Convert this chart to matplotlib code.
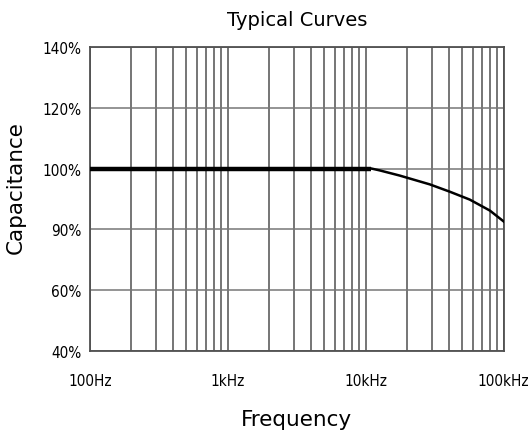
import matplotlib
matplotlib.use("Agg")
import matplotlib.pyplot as plt
from matplotlib.ticker import LogLocator, NullFormatter

# Capacitance vs frequency
freq_flat = [100, 1000, 10000, 11000]
cap_flat = [100, 100, 100, 100]
freq_roll = [11000, 12600, 17600, 29100, 40600, 56700, 79300, 100000]
cap_roll = [100, 99.4, 97.7, 94.8, 92.4, 89.8, 86.2, 82.6]

y_ticks = [40, 60, 80, 100, 120, 140]
y_labels = ["40%", "60%", "90%", "100%", "120%", "140%"]
x_ticks = [100, 1000, 10000, 100000]
x_labels = ["100Hz", "1kHz", "10kHz", "100kHz"]

grid_color = "#505050"

fig = plt.figure(figsize=(5.28, 4.39), dpi=100)
ax = fig.add_axes([0.170, 0.198, 0.784, 0.693])

ax.plot(freq_flat, cap_flat, color="black", lw=3.2, solid_capstyle="butt", zorder=3)
ax.plot(freq_roll, cap_roll, color="black", lw=1.8, zorder=3)

ax.set_xscale("log")
ax.set_xlim(100, 100000)
ax.set_ylim(40, 140)
ax.set_xticks(x_ticks)
ax.set_xticklabels(x_labels, fontsize=11, fontstretch="condensed")
ax.xaxis.set_minor_locator(LogLocator(base=10, subs=range(2, 10)))
ax.xaxis.set_minor_formatter(NullFormatter())
ax.set_yticks(y_ticks)
ax.set_yticklabels(y_labels, fontsize=11, fontstretch="condensed")

ax.grid(True, which="both", axis="x", color=grid_color, lw=1.1)
ax.grid(True, which="major", axis="y", color="#777777", lw=1.1)
ax.tick_params(which="both", length=0)
ax.tick_params(axis="x", pad=16)
ax.tick_params(axis="y", pad=6)
for s in ax.spines.values():
    s.set_color(grid_color)
    s.set_linewidth(1.3)

ax.set_title("Typical Curves", fontsize=14, pad=16)
ax.set_xlabel("Frequency", fontsize=15.5, labelpad=15)
ax.set_ylabel("Capacitance", fontsize=15.5)
ax.yaxis.set_label_coords(-0.155, 0.54)

fig.savefig("out.png", dpi=100)
